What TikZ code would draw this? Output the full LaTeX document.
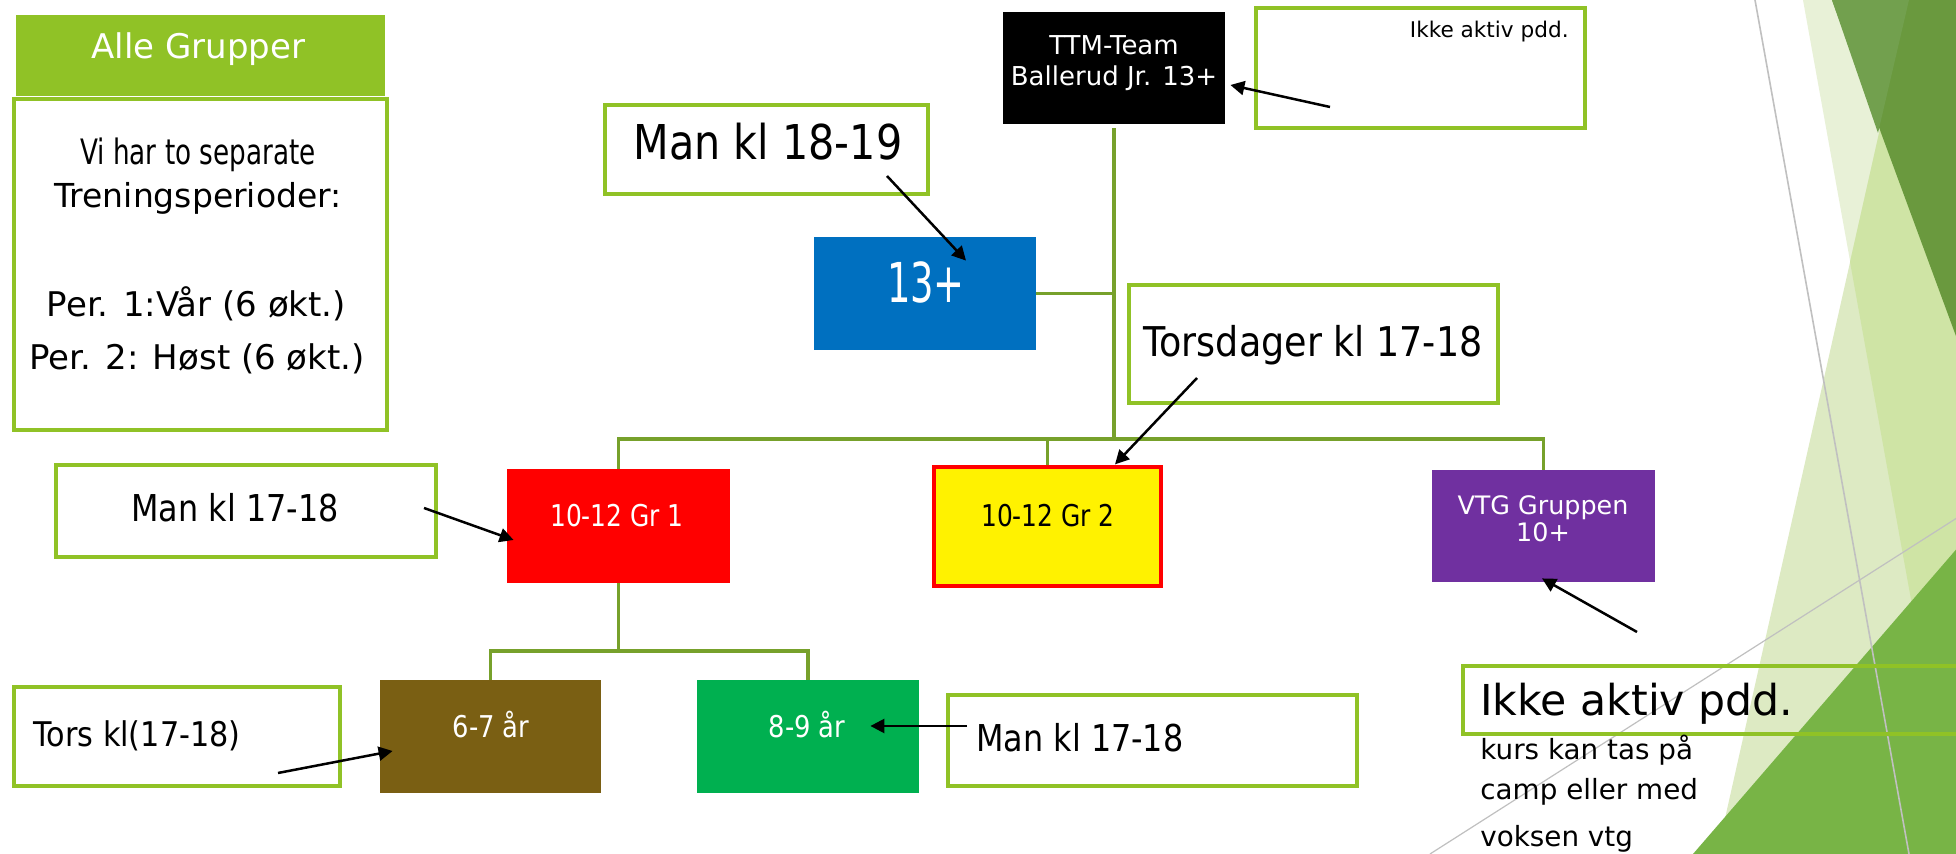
\documentclass[tikz,border=0pt]{standalone}
\usepackage{fontspec}
\setmainfont{DejaVu Sans}
\newfontfamily\fA{DejaVu Sans}[FakeStretch=0.75]
\newfontfamily\fB{DejaVu Sans}[FakeStretch=0.86]
\newfontfamily\fC{DejaVu Sans}[FakeStretch=0.67]
\newfontfamily\fD{DejaVu Sans}[FakeStretch=0.89]
\newfontfamily\fE{DejaVu Sans}[FakeStretch=0.83]
\usetikzlibrary{arrows.meta,calc}
\definecolor{accent}{HTML}{90C226}
\definecolor{connC}{HTML}{77A12B}
\definecolor{blueC}{HTML}{0070C0}
\definecolor{purpleC}{HTML}{7030A0}
\definecolor{brownC}{HTML}{7A5F13}
\definecolor{greenC}{HTML}{00B050}
\definecolor{triA}{HTML}{E8F1D7}
\definecolor{triD}{HTML}{DDEAC3}
\definecolor{triAD}{HTML}{CFE4A5}
\definecolor{darkA}{HTML}{72A04E}
\definecolor{darkB}{HTML}{6A993E}
\definecolor{triE}{HTML}{78B446}
\definecolor{grayL}{HTML}{C0C0C0}
\newcommand\setfs[1]{\fontsize{#1pt}{#1pt}\selectfont}
\newcommand\bx[7]{%
  \pgfmathsetmacro\bw{(#5-#3)*0.5}\pgfmathsetmacro\bh{(#6-#4)*0.5}%
  \node[#2, minimum width=\bw pt, minimum height=\bh pt, inner sep=0pt] (#1) at ({(#3+#5)/2},{(#4+#6)/2}) {#7};}
\begin{document}
\begin{tikzpicture}[x=0.5pt,y=-0.5pt,
  frame/.style={draw=accent, line width=1.8pt},
  lbl/.style={inner sep=0pt, anchor=base},
  conn/.style={draw=connC, line width=1.7pt},
  arr/.style={draw=black, line width=1.25pt, -{Triangle[length=7pt,width=7pt]}}]
\useasboundingbox (0,0) rectangle (1956,854);
\clip (0,0) rectangle (1956,854);
\fill[white] (0,0) rectangle (1956,854);
% background facets
\fill[triA] (1803,0) -- (1960,0) -- (1960,854) -- (1957,854) -- cycle;
\fill[triD] (1909,0) -- (1960,0) -- (1960,854) -- (1717,854) -- cycle;
\fill[triAD] (1909,0) -- (1960,0) -- (1960,854) -- (1957,854) -- (1850,262) -- cycle;
\fill[darkB] (1832,0) -- (1960,0) -- (1960,347) -- cycle;
\fill[darkA] (1832,0) -- (1909,0) -- (1878,133) -- cycle;
\fill[triE] (1693,854) -- (1960,545) -- (1960,854) -- cycle;
\draw[grayL, line width=0.8pt] (1755,0) -- (1909,854);
\draw[grayL, line width=0.6pt] (1430,854) -- (1960,516);
% boxes
\bx{alle}{fill=accent}{16}{15}{385}{96}{}
\bx{info}{frame}{14}{99}{387}{430}{}
\bx{ttm}{fill=black}{1003}{12}{1225}{124}{}
\bx{note1}{frame}{1256}{8}{1585}{128}{}
\bx{mon1819}{frame}{605}{105}{928}{194}{}
\bx{sen}{fill=blueC}{814}{237}{1036}{350}{}
\bx{thu}{frame}{1129}{285}{1498}{403}{}
\bx{grA}{fill=red}{507}{469}{730}{583}{}
\bx{grB}{fill=yellow, draw=red, line width=1.6pt}{934}{467}{1161}{586}{}
\bx{vtg}{fill=purpleC}{1432}{470}{1655}{582}{}
\bx{monL}{frame}{56}{465}{436}{557}{}
\bx{ageA}{fill=brownC}{380}{680}{601}{793}{}
\bx{ageB}{fill=greenC}{697}{680}{919}{793}{}
\bx{monR}{frame}{948}{695}{1357}{786}{}
\bx{thuL}{frame}{14}{687}{340}{786}{}
\bx{note2}{frame}{1463}{666}{2010}{734}{}
% connectors
\coordinate (hub) at (ttm.south |- 0,439);
\coordinate (hub2) at (grA.south |- 0,651);
\draw[conn] ([yshift=-2pt]ttm.south) -- (hub);
\draw[conn] (sen.east) -- (sen.east -| hub);
\draw[conn] (grA.north) |- (hub) -| (vtg.north);
\draw[conn] (grB.north) -- (grB.north |- hub);
\draw[conn] (grA.south) -- (hub2);
\draw[conn] (ageA.north) |- (hub2) -| (ageB.north);
% arrows
\coordinate (s1) at (1330,107);
\coordinate (s2) at (887,176);
\coordinate (s3) at (1197,378);
\coordinate (s4) at (424,508);
\coordinate (s5) at (278,773);
\coordinate (s6) at (967,726);
\coordinate (s7) at (1637,632);
\draw[arr] (s1) -- ($(ttm.east)+(5,17)$);
\draw[arr] (s2) -- ($(sen.north)+(41,24)$);
\draw[arr] (s3) -- ($(grB.north)+(67.5,-1)$);
\draw[arr] (s4) -- ($(grA.west)+(7,14)$);
\draw[arr] (s5) -- ($(ageA.west)+(13,14.5)$);
\draw[arr] (s6) -- ($(ageB.east)+(-49,-10.5)$);
\draw[arr] (s7) -- ($(vtg.south)+(-1.5,-4)$);
% texts
\node[lbl, text=white, font=\setfs{17}] (tAlle) at (198.5,59) {Alle Grupper};
\node[lbl, font=\fA\setfs{17.5}] (tVi) at (198,165) {Vi har to separate};
\node[lbl, font=\setfs{16.5}] (tTren) at (198,208) {Treningsperioder:};
\node[lbl, font=\setfs{17}] (tP1) at (196.5,317) {Per. 1:Vår (6 økt.)};
\node[lbl, font=\setfs{17}] (tP2) at (197,370) {Per. 2: Høst (6 økt.)};
\node[lbl, text=white, font=\setfs{13}] (tTTM) at (1114,55) {TTM-Team};
\node[lbl, text=white, font=\setfs{13}] (tBal) at (1114,86) {Ballerud Jr. 13+};
\node[lbl, anchor=base east, font=\setfs{10.8}] (tNote1) at (1569,38) {Ikke aktiv pdd.};
\node[lbl, font=\fB\setfs{24}] (tMon1819) at (768,160) {Man kl 18-19};
\node[lbl, text=white, font=\fC\setfs{27.5}] (tSen) at (926,303) {13+};
\node[lbl, font=\fD\setfs{20.5}] (tThu) at (1313,357) {Torsdager kl 17-18};
\node[lbl, font=\fB\setfs{18.5}] (tMonL) at (235,522) {Man kl 17-18};
\node[lbl, text=white, font=\fE\setfs{15}] (tGrA) at (617,527) {10-12 Gr 1};
\node[lbl, font=\fE\setfs{15}] (tGrB) at (1048,527) {10-12 Gr 2};
\node[lbl, text=white, font=\setfs{12.7}] (tVtg1) at (1543,515) {VTG Gruppen};
\node[lbl, text=white, font=\setfs{12.7}] (tVtg2) at (1543,542) {10+};
\node[lbl, text=white, font=\fB\setfs{15}] (tAgeA) at (491,738) {6-7 år};
\node[lbl, text=white, font=\fB\setfs{15}] (tAgeB) at (807,738) {8-9 år};
\node[lbl, anchor=base west, font=\fD\setfs{17}] (tThuL) at (33,747) {Tors kl(17-18)};
\node[lbl, anchor=base west, font=\fB\setfs{18.5}] (tMonR) at (976,752) {Man kl 17-18};
\node[lbl, anchor=base west, font=\setfs{21.3}] (tNote2) at (1480,716) {Ikke aktiv pdd.};
\node[lbl, anchor=base west, font=\setfs{13.9}] (tK1) at (1480,760) {kurs kan tas på};
\node[lbl, anchor=base west, font=\setfs{13.9}] (tK2) at (1480,800) {camp eller med};
\node[lbl, anchor=base west, font=\setfs{13.9}] (tK3) at (1480,847) {voksen vtg};
\end{tikzpicture}
\end{document}
